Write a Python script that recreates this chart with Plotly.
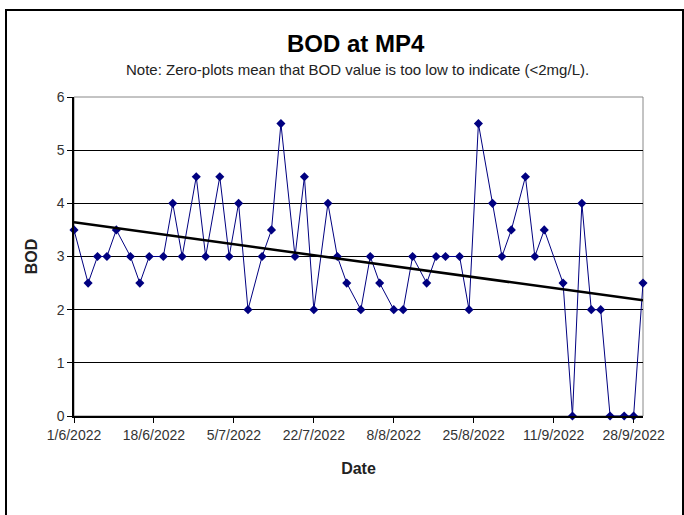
import numpy as np
import pandas as pd
import plotly.graph_objects as go

# ---- data ----
dates = [
    "2022-06-01", "2022-06-04", "2022-06-06", "2022-06-08", "2022-06-10",
    "2022-06-13", "2022-06-15", "2022-06-17", "2022-06-20", "2022-06-22",
    "2022-06-24", "2022-06-27", "2022-06-29", "2022-07-02", "2022-07-04",
    "2022-07-06", "2022-07-08", "2022-07-11", "2022-07-13", "2022-07-15",
    "2022-07-18", "2022-07-20", "2022-07-22", "2022-07-25", "2022-07-27",
    "2022-07-29", "2022-08-01", "2022-08-03", "2022-08-05", "2022-08-08",
    "2022-08-10", "2022-08-12", "2022-08-15", "2022-08-17", "2022-08-19",
    "2022-08-22", "2022-08-24", "2022-08-26", "2022-08-29", "2022-08-31",
    "2022-09-02", "2022-09-05", "2022-09-07", "2022-09-09", "2022-09-13",
    "2022-09-15", "2022-09-17", "2022-09-19", "2022-09-21", "2022-09-23",
    "2022-09-26", "2022-09-28", "2022-09-30",
]
bod = [
    3.5, 2.5, 3, 3, 3.5,
    3, 2.5, 3, 3, 4,
    3, 4.5, 3, 4.5, 3,
    4, 2, 3, 3.5, 5.5,
    3, 4.5, 2, 4, 3,
    2.5, 2, 3, 2.5, 2,
    2, 3, 2.5, 3, 3,
    3, 2, 5.5, 4, 3,
    3.5, 4.5, 3, 3.5, 2.5,
    0, 4, 2, 2, 0,
    0, 0, 2.5,
]
tick_dates = ["2022-06-01", "2022-06-18", "2022-07-05", "2022-07-22",
              "2022-08-08", "2022-08-25", "2022-09-11", "2022-09-28"]
tick_labels = ["1/6/2022", "18/6/2022", "5/7/2022", "22/7/2022",
               "8/8/2022", "25/8/2022", "11/9/2022", "28/9/2022"]
y_ticks = [0, 1, 2, 3, 4, 5, 6]

title_text = "BOD at MP4"
note_text = "Note: Zero-plots mean that BOD value is too low to indicate (<2mg/L)."

# ---- linear trend ----
d = pd.to_datetime(dates)
days = np.array((d - d[0]).days, dtype=float)
slope, intercept = np.polyfit(days, np.array(bod, dtype=float), 1)
trend_x = [d[0], d[-1]]
trend_y = [intercept, intercept + slope * days[-1]]

FONT = "Liberation Sans, Arial, sans-serif"
NAVY = "#000080"

fig = go.Figure()
fig.add_trace(go.Scatter(
    x=d, y=bod, mode="lines+markers",
    line=dict(color=NAVY, width=1),
    marker=dict(symbol="diamond", size=7, color=NAVY),
    showlegend=False, cliponaxis=False,
))
fig.add_trace(go.Scatter(
    x=trend_x, y=trend_y, mode="lines",
    line=dict(color="black", width=2.5),
    showlegend=False, cliponaxis=False,
))

L, R, T, B = 74, 41, 97, 99
W, H = 684, 515
pw, ph = W - L - R, H - T - B

def px_x(p):
    return (p - L) / pw

def px_y(p):
    return (H - B - p) / ph

fig.update_layout(
    width=W, height=H,
    margin=dict(l=L, r=R, t=T, b=B, pad=0),
    paper_bgcolor="white", plot_bgcolor="white",
    font=dict(family=FONT, size=14, color="#222222"),
    xaxis=dict(
        type="date",
        range=[dates[0], dates[-1]],
        tickvals=tick_dates, ticktext=tick_labels,
        tickfont=dict(size=14, color="#333333"),
        ticks="outside", ticklen=5, tickcolor="black", tickwidth=1,
        showgrid=False, zeroline=False,
        showline=True, linecolor="black", linewidth=1.5,
        title=dict(text="<b>Date</b>", font=dict(size=16, color="#222222"), standoff=21),
    ),
    yaxis=dict(
        range=[0, 6], tickvals=y_ticks,
        tickfont=dict(size=14, color="#333333"),
        ticks="outside", ticklen=5, tickcolor="black", tickwidth=1,
        showgrid=True, gridcolor="black", gridwidth=1,
        zeroline=False,
        showline=True, linecolor="black", linewidth=1.5,
        title=dict(text="<b>BOD</b>", font=dict(size=16, color="#222222"), standoff=15),
    ),
    shapes=[
        # grey plot-area frame (top and right)
        dict(type="rect", xref="paper", yref="paper", x0=0, x1=1, y0=0, y1=1,
             line=dict(color="#888888", width=1), layer="below"),
        # outer chart border (right and bottom edges fall outside the view)
        dict(type="rect", xref="paper", yref="paper",
             x0=px_x(6), x1=px_x(683), y0=px_y(530), y1=px_y(10),
             line=dict(color="black", width=2)),
    ],
    annotations=[
        dict(text="<b>" + title_text + "</b>", xref="paper", yref="paper",
             x=px_x(356), y=px_y(43), xanchor="center", yanchor="middle",
             showarrow=False, font=dict(size=24, color="black")),
        dict(text=note_text, xref="paper", yref="paper",
             x=px_x(357), y=px_y(69), xanchor="center", yanchor="middle",
             showarrow=False, font=dict(size=15, color="#222222")),
    ],
)

fig.write_html("out.html", config={"displayModeBar": False},
               post_script="document.body.style.margin='0px';")
